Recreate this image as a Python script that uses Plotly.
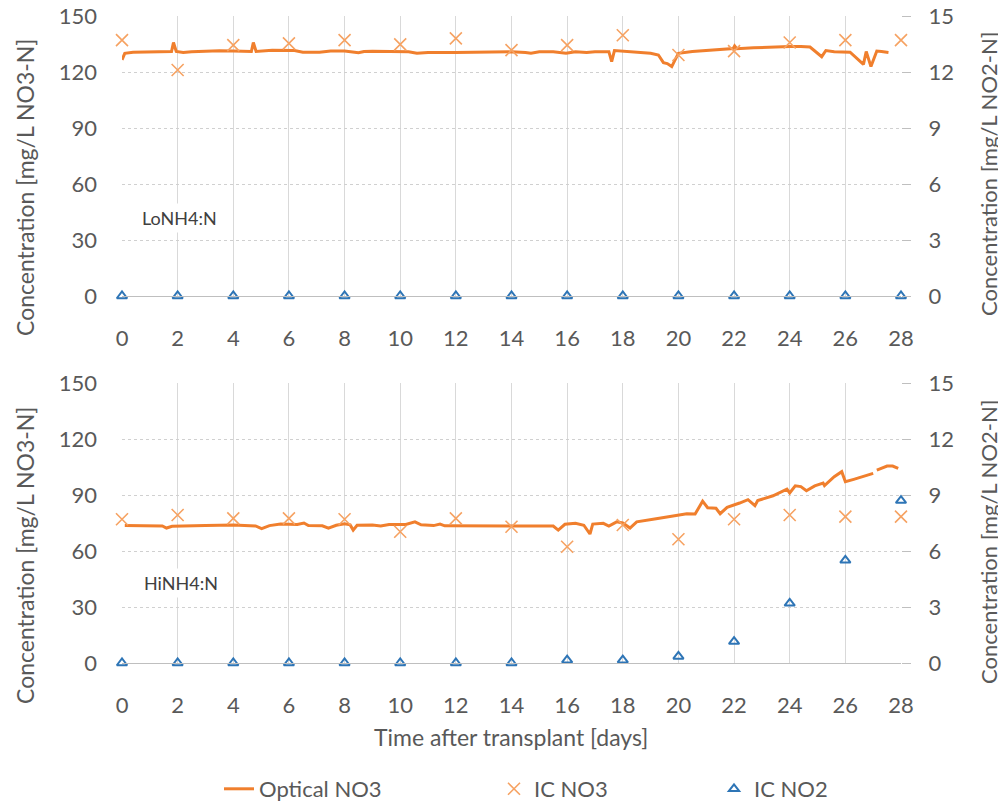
import plotly.graph_objects as go

# ---------------- data ----------------
ic_days = [0, 2, 4, 6, 8, 10, 12, 14, 16, 18, 20, 22, 24, 26, 28]

lo_ic_no3 = [137.1, 121.1, 134.4, 135.3, 137.1, 134.8, 138.0, 131.7, 134.4, 139.7, 129.1, 131.2, 135.8, 137.1, 137.1]
lo_ic_no2 = [0, 0, 0, 0, 0, 0, 0, 0, 0, 0, 0, 0, 0, 0, 0]

hi_ic_no3 = [77.0, 79.3, 77.5, 77.5, 77.0, 70.3, 77.5, 73.0, 62.3, 73.9, 66.3, 77.0, 79.3, 78.4, 78.4]
hi_ic_no2 = [0, 0, 0, 0, 0, 0, 0, 0, 0.15, 0.15, 0.35, 1.15, 3.2, 5.5, 8.7]

lo_opt_t = [0.0, 0.1, 0.4, 1.0, 1.5, 1.78, 1.85, 1.95, 2.2, 2.5, 3.0, 3.5, 4.0, 4.5, 4.65, 4.72, 4.82,
            5.4, 5.9, 6.2, 6.5, 7.1, 7.5, 8.0, 8.5, 8.7, 9.0, 10.0, 10.3, 10.6, 11.0, 12.0, 12.5, 13.0,
            13.5, 14.0, 14.5, 14.7, 15.0, 15.5, 15.96, 16.3, 16.7, 17.0, 17.5, 17.6, 17.7, 18.0, 18.5,
            19.0, 19.28, 19.46, 19.6, 19.76, 19.88, 20.0, 20.5, 21.0, 21.5, 21.97, 22.02, 22.1, 22.7,
            23.4, 24.0, 24.4, 24.73, 25.15, 25.3, 25.6, 26.0, 26.17, 26.65, 26.75, 26.92, 27.02, 27.13,
            27.3, 27.55]
lo_opt_v = [126.5, 130.0, 130.6, 130.8, 130.9, 131.0, 135.8, 131.0, 130.4, 130.9, 131.1, 131.4, 131.2,
            131.0, 131.0, 135.8, 131.0, 131.7, 131.8, 131.5, 130.6, 130.6, 131.2, 131.2, 130.3, 131.0,
            131.1, 131.1, 130.8, 130.0, 130.4, 130.5, 130.6, 130.6, 130.9, 130.8, 130.5, 130.0, 130.8,
            130.9, 130.0, 130.8, 130.4, 130.8, 130.9, 125.6, 131.5, 131.2, 130.4, 130.0, 129.1, 125.0,
            124.5, 122.9, 126.5, 130.0, 131.0, 131.5, 132.0, 132.6, 134.0, 132.5, 133.0, 133.5, 133.6,
            133.6, 133.4, 128.2, 131.5, 130.9, 130.6, 130.6, 124.1, 131.0, 122.9, 127.0, 131.2, 131.0,
            130.5]

hi_opt_t = [0.1, 1.0, 1.45, 1.6, 1.8, 3.0, 4.0, 4.8, 5.02, 5.3, 5.7, 6.3, 6.54, 6.7, 7.2, 7.42, 7.7,
            8.0, 8.2, 8.31, 8.45, 9.0, 9.3, 9.6, 10.2, 10.53, 10.75, 11.2, 11.43, 11.6, 13.0, 14.0, 15.03,
            15.5, 15.68, 15.92, 16.3, 16.6, 16.82, 16.92, 17.3, 17.5, 17.78, 18.0, 18.26, 18.5, 19.2,
            20.0, 20.3, 20.6, 20.87, 21.05, 21.35, 21.5, 21.75, 22.2, 22.5, 22.75, 22.85, 23.4, 23.9,
            24.0, 24.2, 24.4, 24.6, 24.9, 25.2, 25.25, 25.6, 25.87, 26.0, 26.3, 26.65, 27.0, None,
            27.13, 27.5, 27.7, 27.9]
hi_opt_v = [73.6, 73.4, 73.4, 72.3, 73.2, 73.6, 73.9, 73.4, 72.0, 73.6, 74.4, 74.2, 75.0, 73.6, 73.5,
            72.2, 73.8, 74.6, 74.0, 71.2, 73.8, 73.9, 73.4, 74.2, 74.2, 75.6, 74.0, 73.6, 74.4, 73.5,
            73.4, 73.4, 73.4, 73.4, 71.2, 74.3, 74.8, 73.8, 69.1, 74.4, 74.8, 73.4, 75.6, 75.0, 72.3,
            75.6, 77.3, 79.1, 80.0, 79.8, 86.7, 83.2, 82.9, 80.0, 83.4, 85.7, 87.5, 84.3, 87.0, 89.6,
            93.2, 91.1, 94.9, 94.5, 92.3, 94.9, 96.4, 95.0, 99.8, 102.5, 97.1, 98.4, 99.8, 101.6, None,
            103.3, 105.5, 105.5, 104.2]

x_ticks = [0, 2, 4, 6, 8, 10, 12, 14, 16, 18, 20, 22, 24, 26, 28]
left_ticks = [0, 30, 60, 90, 120, 150]
right_ticks = [0, 3, 6, 9, 12, 15]

left_title = "Concentration [mg/L NO3-N]"
right_title = "Concentration [mg/L NO2-N]"
x_title = "Time after transplant [days]"

# ---------------- style ----------------
LINE_C = "#F07F2D"
X_C = "#F6A262"
TRI_C = "#2E75B6"
TXT = "#595959"
FONT = "Lato"
FS = 22      # tick labels
TS = 23      # axis titles
LS = 22      # legend

fig = go.Figure()

def add_panel(xa, ya, ya2, opt_t, opt_v, ic_no3, ic_no2, show):
    fig.add_trace(go.Scatter(x=opt_t, y=opt_v, mode="lines", name="Optical NO3",
                             line=dict(color=LINE_C, width=3), xaxis=xa, yaxis=ya,
                             showlegend=show, legend="legend", connectgaps=False))
    fig.add_trace(go.Scatter(x=ic_days, y=ic_no3, mode="markers", name="IC NO3",
                             marker=dict(symbol="x-thin-open", size=12, color=X_C,
                                         line=dict(color=X_C, width=1.6)),
                             xaxis=xa, yaxis=ya, showlegend=show, legend="legend2",
                             cliponaxis=False))
    fig.add_trace(go.Scatter(x=ic_days, y=ic_no2, mode="markers", name="IC NO2",
                             marker=dict(symbol="triangle-up-open", size=9, color=TRI_C,
                                         line=dict(color=TRI_C, width=2)),
                             xaxis=xa, yaxis=ya2, showlegend=show, legend="legend3",
                             cliponaxis=False))

add_panel("x", "y", "y2", lo_opt_t, lo_opt_v, lo_ic_no3, lo_ic_no2, True)
add_panel("x2", "y3", "y4", hi_opt_t, hi_opt_v, hi_ic_no3, hi_ic_no2, False)

# The page body adds an 8 px offset; target positions below are in screenshot pixels.
OFF = 8
H, W = 802, 1006
PL, PR, PT, PB = 122, 901, 16, 663          # plot area in screenshot pixels
ml, mt = PL - OFF, PT - OFF
mr, mb = W - (PR - OFF), H - (PB - OFF)
ph = H - mt - mb
pw = W - ml - mr
top_dom = [(PB - 296) / ph, 1.0]
bot_dom = [0.0, (PB - 383) / ph]

def px_x(p):
    return (p - PL) / pw

def px_y(p):
    return (PB - p) / ph

xcommon = dict(range=[0, 28], tickvals=x_ticks, showgrid=True, gridcolor="#D9D9D9", gridwidth=1,
               zeroline=False, showline=True, linecolor="#BFBFBF", linewidth=1, automargin=False,
               tickfont=dict(family=FONT, size=FS, color=TXT), ticklabelstandoff=23)
ycommon = dict(tickvals=left_ticks, range=[0, 150], showgrid=True, gridcolor="#D0D0D0",
               griddash="dot", zeroline=False, showline=False, automargin=False,
               ticklabeloverflow="allow",
               tickfont=dict(family=FONT, size=FS, color=TXT), ticklabelstandoff=24)
y2common = dict(tickvals=right_ticks, range=[0, 15], showgrid=False, zeroline=False, side="right",
                ticks="outside", ticklen=9, tickcolor="#BFBFBF", showline=False, automargin=False,
                ticklabeloverflow="allow",
                tickfont=dict(family=FONT, size=FS, color=TXT), ticklabelstandoff=13)

leg_font = dict(family=FONT, size=LS, color=TXT)
leg_y = px_y(789)

def title_ann(text, xp, yp, angle, size=TS):
    return dict(text=text, x=px_x(xp), y=px_y(yp), xref="paper", yref="paper",
                xanchor="center", yanchor="middle", textangle=angle, showarrow=False,
                font=dict(family=FONT, size=size, color=TXT))

fig.update_layout(
    width=W, height=H,
    margin=dict(l=ml, r=mr, t=mt, b=mb, autoexpand=False),
    paper_bgcolor="white", plot_bgcolor="white",
    font=dict(family=FONT, color=TXT),
    xaxis=dict(domain=[0, 1], anchor="y", **xcommon),
    xaxis2=dict(domain=[0, 1], anchor="y3", **xcommon),
    yaxis=dict(domain=top_dom, anchor="x", **ycommon),
    yaxis2=dict(domain=top_dom, anchor="x", overlaying="y", **y2common),
    yaxis3=dict(domain=bot_dom, anchor="x2", **ycommon),
    yaxis4=dict(domain=bot_dom, anchor="x2", overlaying="y3", **y2common),
    legend=dict(orientation="h", x=px_x(219), y=leg_y, xanchor="left",
                yanchor="middle", font=leg_font, bgcolor="rgba(0,0,0,0)"),
    legend2=dict(orientation="h", x=px_x(494), y=leg_y, xanchor="left",
                 yanchor="middle", font=leg_font, bgcolor="rgba(0,0,0,0)"),
    legend3=dict(orientation="h", x=px_x(714), y=leg_y, xanchor="left",
                 yanchor="middle", font=leg_font, bgcolor="rgba(0,0,0,0)"),
    annotations=[
        title_ann(left_title, 25, 188, -90),
        title_ann(left_title, 25, 556, -90),
        title_ann(right_title, 988, 174, -90, 22),
        title_ann(right_title, 988, 542, -90, 22),
        title_ann(x_title, 511, 737, 0),
        dict(text="LoNH4:N", x=0.58, y=42, xref="x", yref="y", xanchor="left", yanchor="middle",
             showarrow=False, bgcolor="white", borderpad=3,
             font=dict(family=FONT, size=18, color="#404040")),
        dict(text="HiNH4:N", x=0.65, y=43, xref="x2", yref="y3", xanchor="left", yanchor="middle",
             showarrow=False, bgcolor="white", borderpad=3,
             font=dict(family=FONT, size=18, color="#404040")),
    ],
)

fig.write_html("out.html")
